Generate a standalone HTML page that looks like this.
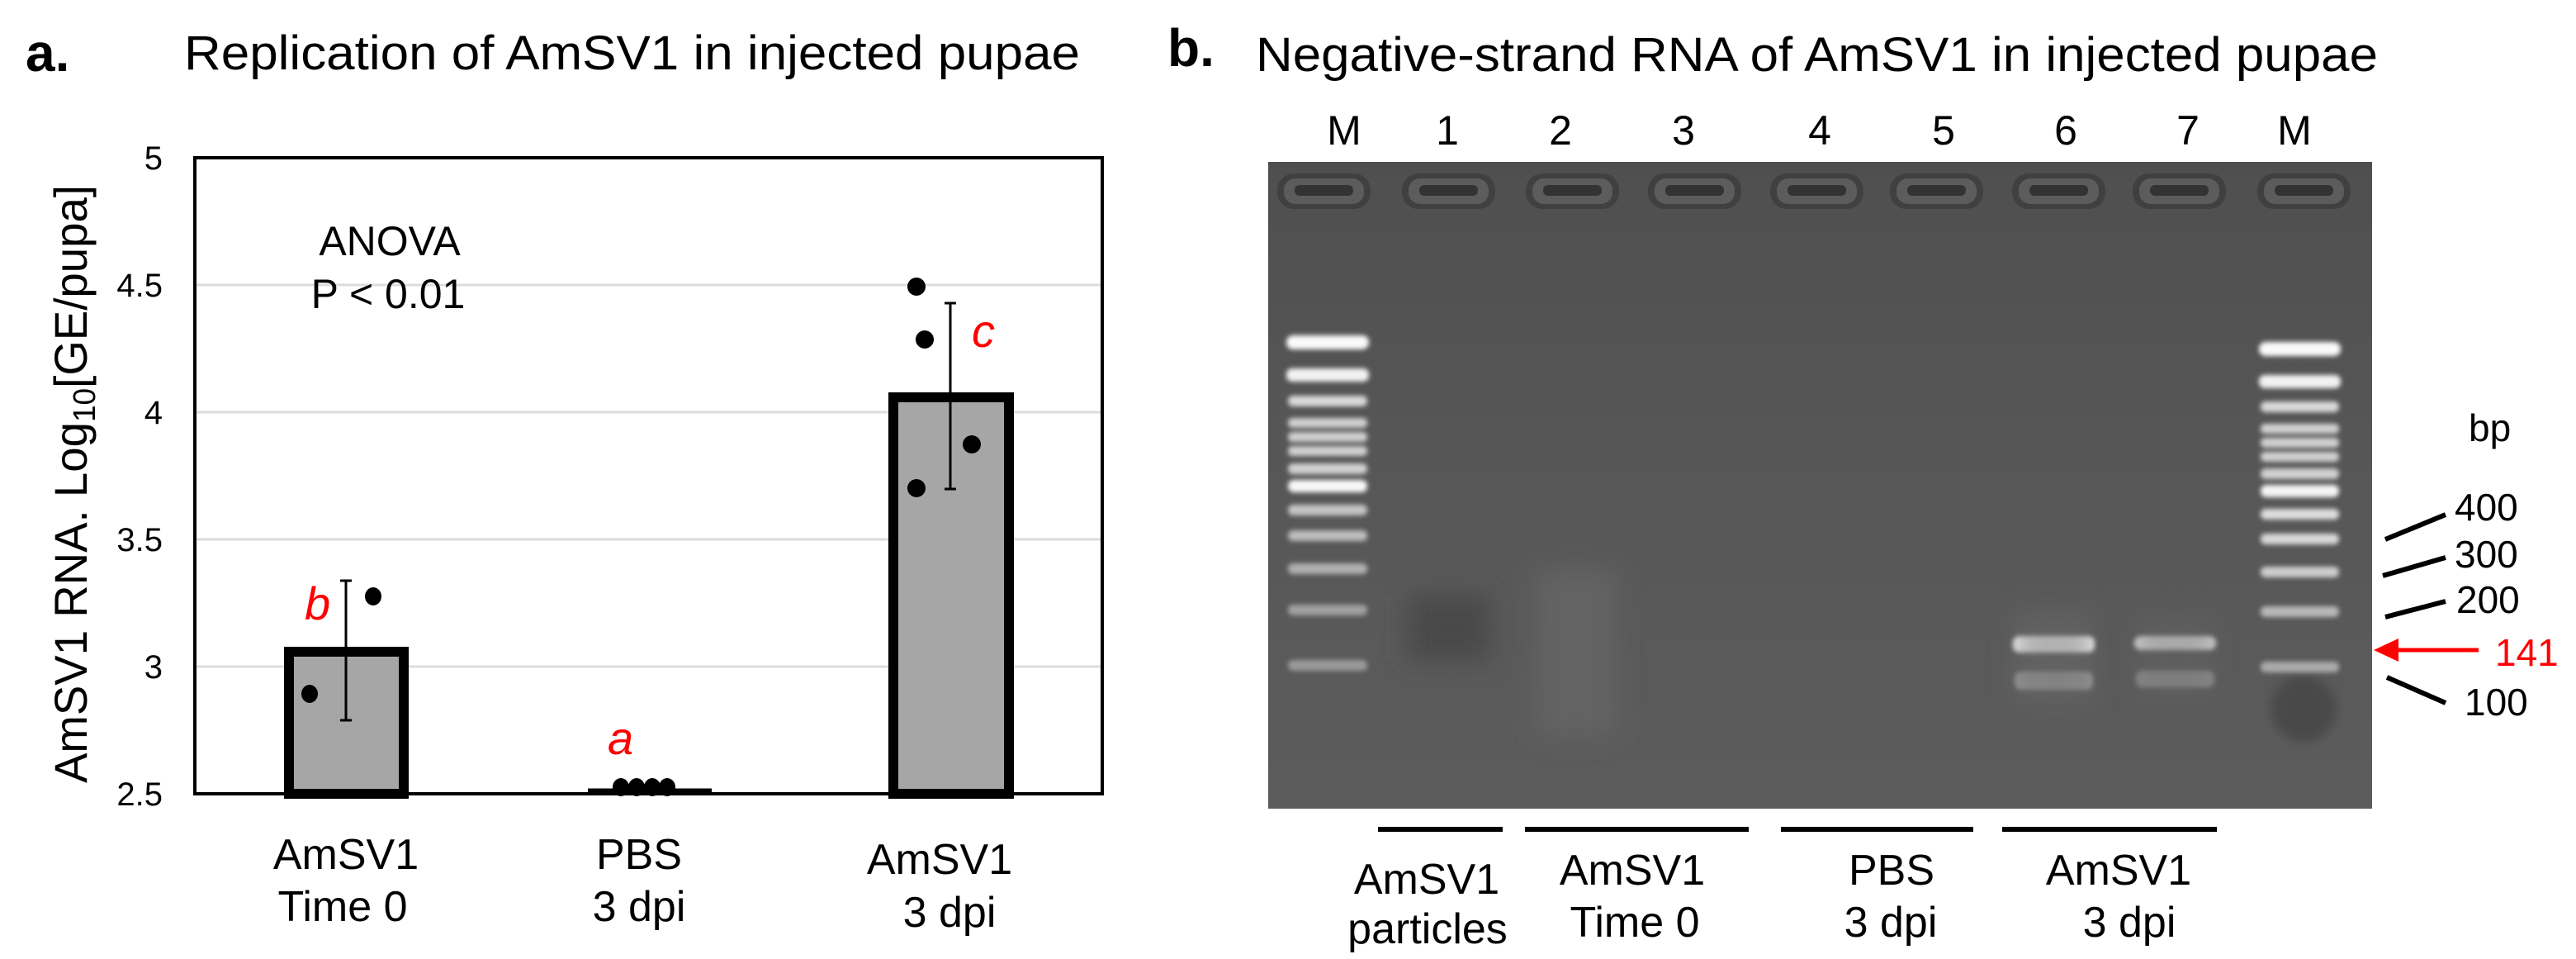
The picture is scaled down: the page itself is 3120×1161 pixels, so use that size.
<!DOCTYPE html>
<html><head><meta charset="utf-8"><style>
html,body{margin:0;padding:0;background:#fff;}
svg{display:block;font-family:"Liberation Sans",Arial,sans-serif;}
</style></head><body>
<svg width="3120" height="1161" viewBox="0 0 3120 1161" xmlns="http://www.w3.org/2000/svg">
<defs>
<filter id="b3" x="-20%" y="-100%" width="140%" height="300%"><feGaussianBlur stdDeviation="3"/></filter>
<filter id="b6" x="-30%" y="-100%" width="160%" height="300%"><feGaussianBlur stdDeviation="6"/></filter>
<filter id="b15" x="-50%" y="-50%" width="200%" height="200%"><feGaussianBlur stdDeviation="15"/></filter>
<linearGradient id="gg" x1="0" y1="0" x2="0" y2="1">
<stop offset="0" stop-color="#4f4f4f"/><stop offset="0.5" stop-color="#575757"/><stop offset="1" stop-color="#5c5c5c"/>
</linearGradient>
</defs>
<rect width="3120" height="1161" fill="#fff"/>

<!-- Panel a -->
<text x="31" y="86" font-size="64" font-weight="bold">a.</text>
<text x="223" y="84" font-size="58" textLength="1085" lengthAdjust="spacingAndGlyphs">Replication of AmSV1 in injected pupae</text>

<g stroke="#dcdcdc" stroke-width="3">
<line x1="238" y1="345" x2="1335" y2="345"/>
<line x1="238" y1="499" x2="1335" y2="499"/>
<line x1="238" y1="653" x2="1335" y2="653"/>
<line x1="238" y1="807" x2="1335" y2="807"/>
</g>
<rect x="236" y="191" width="1099" height="770" fill="none" stroke="#000" stroke-width="4"/>

<g font-size="40" text-anchor="end">
<text x="197" y="205">5</text>
<text x="197" y="359">4.5</text>
<text x="197" y="513">4</text>
<text x="197" y="667">3.5</text>
<text x="197" y="821">3</text>
<text x="197" y="975">2.5</text>
</g>
<text transform="translate(105,586) rotate(-90)" font-size="56" text-anchor="middle" textLength="724" lengthAdjust="spacingAndGlyphs">AmSV1 RNA.  Log<tspan font-size="38" dy="10">10</tspan><tspan dy="-10">[GE/pupa]</tspan></text>

<g font-size="50" text-anchor="middle">
<text x="472" y="309">ANOVA</text>
<text x="470" y="373">P &lt; 0.01</text>
</g>

<rect x="350" y="789" width="139" height="172" fill="#a6a6a6" stroke="#000" stroke-width="12"/>
<rect x="1082" y="481" width="140" height="480" fill="#a6a6a6" stroke="#000" stroke-width="12"/>
<line x1="712" y1="957" x2="862" y2="957" stroke="#000" stroke-width="5"/>
<line x1="236" y1="961" x2="1335" y2="961" stroke="#000" stroke-width="4"/>

<g stroke="#000" stroke-width="3">
<line x1="419" y1="703" x2="419" y2="872"/><line x1="412" y1="703" x2="426" y2="703"/><line x1="412" y1="872" x2="426" y2="872"/>
<line x1="1151" y1="367" x2="1151" y2="592"/><line x1="1144" y1="367" x2="1158" y2="367"/><line x1="1144" y1="592" x2="1158" y2="592"/>
</g>
<g fill="#000">
<ellipse cx="452" cy="722" rx="10" ry="11"/>
<ellipse cx="375" cy="840" rx="10" ry="11"/>
<ellipse cx="1110" cy="347" rx="11" ry="11"/>
<ellipse cx="1120" cy="411" rx="11" ry="11"/>
<ellipse cx="1177" cy="538" rx="11" ry="11"/>
<ellipse cx="1110" cy="591" rx="11" ry="11"/>
<ellipse cx="752" cy="953" rx="10" ry="11"/>
<ellipse cx="771" cy="953" rx="10" ry="11"/>
<ellipse cx="790" cy="953" rx="10" ry="11"/>
<ellipse cx="808" cy="953" rx="10" ry="11"/>
</g>
<g fill="#ff0000" font-size="56" font-style="italic">
<text x="369" y="750">b</text>
<text x="736" y="913">a</text>
<text x="1177" y="420">c</text>
</g>

<g font-size="52" text-anchor="middle">
<text x="419" y="1052">AmSV1</text>
<text x="415" y="1115">Time 0</text>
<text x="774" y="1052">PBS</text>
<text x="774" y="1115">3 dpi</text>
<text x="1138" y="1058">AmSV1</text>
<text x="1150" y="1122">3 dpi</text>
</g>

<!-- Panel b -->
<text x="1414" y="80" font-size="64" font-weight="bold">b.</text>
<text x="1521" y="86" font-size="58" textLength="1359" lengthAdjust="spacingAndGlyphs">Negative-strand RNA of AmSV1 in injected pupae</text>

<g font-size="50" text-anchor="middle">
<text x="1628" y="175">M</text>
<text x="1753" y="175">1</text>
<text x="1890" y="175">2</text>
<text x="2039" y="175">3</text>
<text x="2204" y="175">4</text>
<text x="2354" y="175">5</text>
<text x="2502" y="175">6</text>
<text x="2650" y="175">7</text>
<text x="2779" y="175">M</text>
</g>

<rect x="1536" y="196" width="1337" height="783" fill="url(#gg)"/>
<rect x="1862" y="690" width="95" height="200" fill="#646464" filter="url(#b15)"/>
<rect x="1705" y="720" width="100" height="80" fill="#4a4a4a" filter="url(#b15)"/>
<circle cx="2790" cy="858" r="40" fill="#4a4a4a" filter="url(#b6)"/>
<g>
<g id="w">
<rect x="1547" y="210" width="113" height="43" rx="20" fill="#404040"/>
<rect x="1555" y="216" width="97" height="31" rx="14" fill="#5c5c5c"/>
<rect x="1568" y="224" width="71" height="13" rx="6" fill="#333"/>
</g>
<use href="#w" x="151"/><use href="#w" x="301"/><use href="#w" x="449"/><use href="#w" x="597"/>
<use href="#w" x="742"/><use href="#w" x="890"/><use href="#w" x="1036"/><use href="#w" x="1187"/>
</g>
<g filter="url(#b3)" fill="#e8e8e8">
<rect x="1558" y="406" width="100" height="17" rx="8" fill="#fafafa"/>
<rect x="1558" y="446" width="100" height="16" rx="7" fill="#f2f2f2"/>
<rect x="1560" y="479" width="96" height="13" rx="6" fill="#d8d8d8"/>
<rect x="1560" y="506" width="96" height="12" rx="5" fill="#cfcfcf"/>
<rect x="1560" y="523" width="96" height="12" rx="5" fill="#cfcfcf"/>
<rect x="1560" y="540" width="96" height="12" rx="5" fill="#cfcfcf"/>
<rect x="1560" y="561" width="96" height="13" rx="6" fill="#d0d0d0"/>
<rect x="1560" y="581" width="96" height="15" rx="7" fill="#f8f8f8"/>
<rect x="1560" y="611" width="96" height="13" rx="6" fill="#c4c4c4"/>
<rect x="1560" y="642" width="96" height="13" rx="6" fill="#bcbcbc"/>
<rect x="1560" y="682" width="96" height="13" rx="6" fill="#b0b0b0"/>
<rect x="1560" y="732" width="96" height="13" rx="6" fill="#a0a0a0"/>
<rect x="1560" y="799" width="96" height="13" rx="6" fill="#9a9a9a"/>

<rect x="2736" y="414" width="99" height="17" rx="8" fill="#fafafa"/>
<rect x="2736" y="454" width="99" height="16" rx="7" fill="#f2f2f2"/>
<rect x="2738" y="486" width="95" height="13" rx="6" fill="#d8d8d8"/>
<rect x="2738" y="513" width="95" height="12" rx="5" fill="#d0d0d0"/>
<rect x="2738" y="530" width="95" height="12" rx="5" fill="#d0d0d0"/>
<rect x="2738" y="547" width="95" height="12" rx="5" fill="#d0d0d0"/>
<rect x="2738" y="567" width="95" height="13" rx="6" fill="#d0d0d0"/>
<rect x="2738" y="587" width="95" height="15" rx="7" fill="#f5f5f5"/>
<rect x="2738" y="616" width="95" height="13" rx="6" fill="#dddddd"/>
<rect x="2738" y="646" width="95" height="13" rx="6" fill="#d8d8d8"/>
<rect x="2738" y="686" width="95" height="13" rx="6" fill="#cccccc"/>
<rect x="2738" y="734" width="95" height="13" rx="6" fill="#b8b8b8"/>
<rect x="2738" y="801" width="95" height="13" rx="6" fill="#aaaaaa"/>
<rect x="2438" y="770" width="99" height="20" rx="8" fill="#fbfbfb"/>
<rect x="2440" y="813" width="95" height="22" rx="8" fill="#9a9a9a"/>
<rect x="2585" y="770" width="99" height="17" rx="8" fill="#d6d6d6"/>
<rect x="2587" y="812" width="95" height="20" rx="8" fill="#8c8c8c"/>
</g>
<rect x="2440" y="740" width="95" height="110" fill="#6a6a6a" opacity="0.5" filter="url(#b15)"/>
<rect x="2587" y="745" width="95" height="100" fill="#666" opacity="0.4" filter="url(#b15)"/>

<g font-size="46">
<text x="2990" y="534">bp</text>
<text x="2973" y="630">400</text>
<text x="2973" y="687">300</text>
<text x="2975" y="742">200</text>
<text x="2985" y="866">100</text>
<text x="3022" y="806" fill="#ff0000">141</text>
</g>
<g stroke="#000" stroke-width="6">
<line x1="2889" y1="653" x2="2962" y2="623"/>
<line x1="2886" y1="697" x2="2962" y2="675"/>
<line x1="2889" y1="747" x2="2962" y2="728"/>
<line x1="2891" y1="820" x2="2962" y2="851"/>
</g>
<line x1="2900" y1="787" x2="3002" y2="787" stroke="#ff0000" stroke-width="5"/>
<polygon points="2875,787 2905,773 2905,801" fill="#ff0000"/>

<g stroke="#000" stroke-width="6">
<line x1="1669" y1="1004" x2="1820" y2="1004"/>
<line x1="1847" y1="1004" x2="2118" y2="1004"/>
<line x1="2157" y1="1004" x2="2390" y2="1004"/>
<line x1="2425" y1="1004" x2="2685" y2="1004"/>
</g>
<g font-size="52" text-anchor="middle">
<text x="1728" y="1082">AmSV1</text>
<text x="1729" y="1142">particles</text>
<text x="1977" y="1071">AmSV1</text>
<text x="1980" y="1134">Time 0</text>
<text x="2291" y="1071">PBS</text>
<text x="2290" y="1134">3 dpi</text>
<text x="2566" y="1071">AmSV1</text>
<text x="2579" y="1134">3 dpi</text>
</g>
</svg>
</body></html>
